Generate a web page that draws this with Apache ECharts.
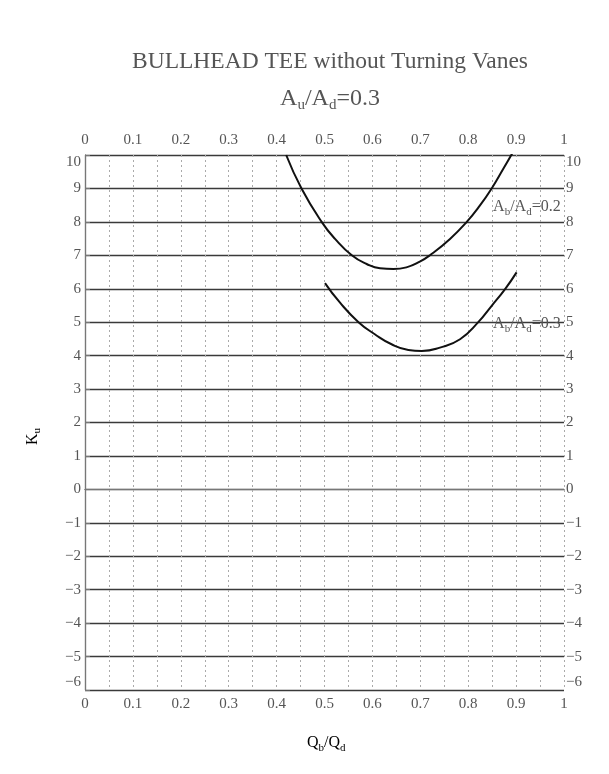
<!DOCTYPE html>
<html>
<head>
<meta charset="utf-8">
<script src="https://cdn.jsdelivr.net/npm/echarts@6/dist/echarts.min.js"></script>
<style>html,body{margin:0;padding:0;background:#fff}#c{width:609px;height:774px}</style>
</head>
<body>
<div id="c"></div>
<script>
// Data
const xTicks = ['0','0.1','0.2','0.3','0.4','0.5','0.6','0.7','0.8','0.9','1'];
const x02 = [0.420, 0.452, 0.494, 0.522, 0.557, 0.588, 0.616, 0.644, 0.671, 0.699, 0.720, 0.762, 0.797, 0.825, 0.849, 0.873, 0.892];
const y02 = [10.0, 9.00, 8.00, 7.49, 7.00, 6.74, 6.61, 6.59, 6.64, 6.81, 7.00, 7.49, 8.00, 8.50, 9.00, 9.58, 10.05];
const x03 = [0.501, 0.532, 0.571, 0.605, 0.640, 0.675, 0.703, 0.741, 0.783, 0.821, 0.849, 0.877, 0.901];
const y03 = [6.17, 5.59, 5.00, 4.64, 4.34, 4.17, 4.14, 4.24, 4.49, 5.00, 5.49, 5.99, 6.49];
const label02 = {x: 0.852, y: 8.45};
const label03 = {x: 0.852, y: 4.95};

const FONT = 'Liberation Serif';
const GREY = '#555';
const pairs = (xs, ys) => xs.map((v, i) => [v, ys[i]]);
const xFmt = v => {
  const k = Math.round(v * 20);
  return k % 2 === 0 ? xTicks[k / 2] : '';
};
const subRich = {
  n: {fontFamily: FONT, fontSize: 16, color: GREY, fontWeight: 'normal'},
  s: {fontFamily: FONT, fontSize: 11, color: GREY, fontWeight: 'normal', verticalAlign: 'bottom', padding: [10, 0, 0, 0]}
};

const chart = echarts.init(document.getElementById('c'));
const xBase = {
  type: 'value', min: 0, max: 1, interval: 0.05,
  axisLine: {show: true, lineStyle: {color: '#777', width: 1.2}},
  axisTick: {show: false},
  axisLabel: {formatter: xFmt, fontFamily: FONT, fontSize: 15, color: GREY, margin: 7, showMinLabel: true, showMaxLabel: true}
};
const yBase = {
  type: 'value', min: -6, max: 10, interval: 1,
  axisLine: {show: true, lineStyle: {color: '#777', width: 1.2}},
  axisLabel: {fontFamily: FONT, fontSize: 15, color: GREY, margin: 4,
    formatter: v => (v < 0 ? '\u2212' + Math.abs(v) : String(v)),
    verticalAlignMaxLabel: 'top', verticalAlignMinLabel: 'bottom'}
};
chart.setOption({
  animation: false,
  backgroundColor: '#fff',
  grid: {left: 85, right: 45, top: 155, bottom: 84},
  title: [{
    text: 'BULLHEAD TEE without Turning Vanes',
    left: 325, top: 45, textAlign: 'center',
    textStyle: {fontFamily: FONT, fontWeight: 'normal', fontSize: 23.5, color: GREY}
  }, {
    text: '{n|A}{s|u}{n|/A}{s|d}{n|=0.3}',
    left: 325, top: 79, textAlign: 'center',
    textStyle: {fontWeight: 'normal', rich: {
      n: {fontFamily: FONT, fontSize: 24, color: GREY, fontWeight: 'normal'},
      s: {fontFamily: FONT, fontSize: 15, color: GREY, fontWeight: 'normal', verticalAlign: 'bottom', padding: [14, 0, 0, 0]}
    }}
  }],
  xAxis: [
    Object.assign({}, xBase, {position: 'bottom',
      splitLine: {show: true, lineStyle: {color: '#aaa', type: [2, 3], width: 1}}}),
    Object.assign({}, xBase, {position: 'top', splitLine: {show: false}})
  ],
  yAxis: [
    Object.assign({}, yBase, {position: 'left', axisTick: {show: false},
      splitLine: {show: true, lineStyle: {color: '#3a3a3a', width: 1.4}}}),
    Object.assign({}, yBase, {position: 'right', splitLine: {show: false},
      axisTick: {show: true, length: 5, lineStyle: {color: '#777'}},
      axisLabel: Object.assign({}, yBase.axisLabel, {margin: 2})})
  ],
  graphic: [{
    type: 'text', left: 307, top: 735,
    style: {text: '{n|Q}{s|b}{n|/Q}{s|d}', rich: subRich}
  }, {
    type: 'text', x: 22, y: 445, rotation: Math.PI / 2,
    style: {text: '{n|K}{s|u}', rich: subRich}
  }],
  series: [{
    type: 'line', data: pairs(x02, y02), smooth: 0.5, symbol: 'none',
    lineStyle: {color: '#111', width: 2},
    markPoint: {symbol: 'circle', symbolSize: 0, data: [{coord: [label02.x, label02.y]}],
      label: {show: true, position: 'right', distance: 0, formatter: '{n|A}{s|b}{n|/A}{s|d}{n|=0.2}', rich: subRich}}
  }, {
    type: 'line', data: pairs(x03, y03), smooth: 0.5, symbol: 'none',
    lineStyle: {color: '#111', width: 2},
    markPoint: {symbol: 'circle', symbolSize: 0, data: [{coord: [label03.x, label03.y]}],
      label: {show: true, position: 'right', distance: 0, formatter: '{n|A}{s|b}{n|/A}{s|d}{n|=0.3}', rich: subRich}}
  }]
});
</script>
</body>
</html>
